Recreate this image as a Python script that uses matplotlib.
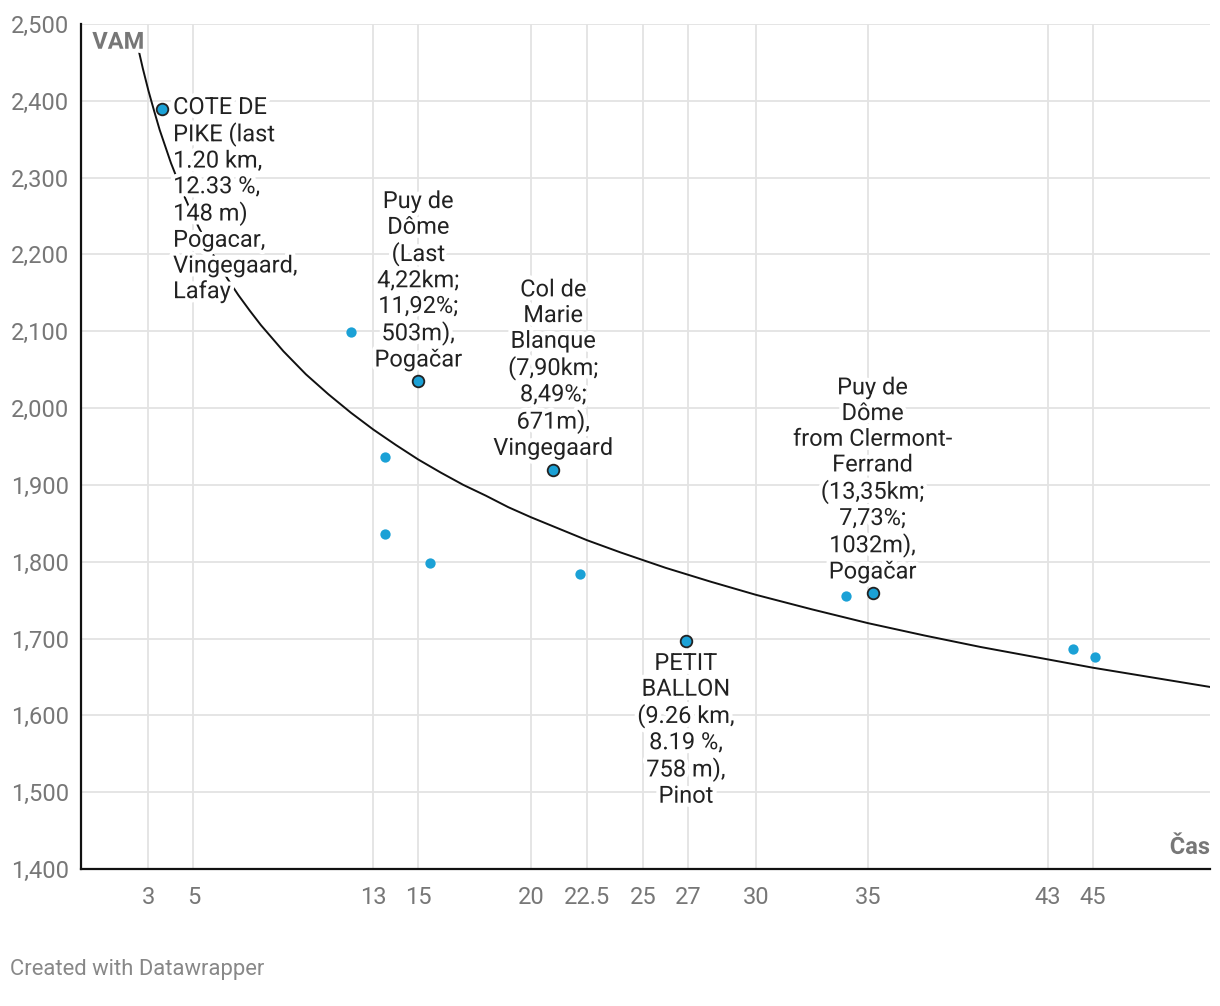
import matplotlib.pyplot as plt
import matplotlib.patheffects as pe

plt.rcParams['font.family'] = ['Roboto', 'DejaVu Sans']

# trend line
curve_x = [2.5, 2.75, 3, 3.25, 3.5, 4, 4.5, 5, 5.5, 6, 6.5, 7, 7.5, 8, 9, 10, 11, 12, 13, 14, 15,
           16, 17, 18, 19, 20, 22.5, 24, 26, 28, 30, 32.5, 35, 37.5, 40, 45, 50.2]
curve_y = [2474, 2442, 2413, 2387, 2362, 2319, 2282, 2249, 2220, 2193, 2169, 2147, 2127, 2108,
           2074, 2044, 2018, 1994, 1972, 1952, 1933, 1916, 1900, 1886, 1871, 1858, 1828, 1812,
           1792, 1774, 1757, 1738, 1720, 1704, 1689, 1662, 1637]

# unlabeled climbs
small_x = [12.0, 13.5, 13.5, 15.5, 22.2, 34.0, 44.1, 45.1]
small_y = [2099, 1936, 1836, 1798, 1784, 1755, 1686, 1676]

# labeled climbs
big_x = [3.6, 15.0, 21.0, 26.9, 35.2]
big_y = [2390, 2035, 1920, 1697, 1759]
big_labels = [
    "COTE DE\nPIKE (last\n1.20 km,\n12.33 %,\n148 m)\nPogacar,\nVingegaard,\nLafay",
    "Puy de\nDôme\n(Last\n4,22km;\n11,92%;\n503m),\nPogačar",
    "Col de\nMarie\nBlanque\n(7,90km;\n8,49%;\n671m),\nVingegaard",
    "PETIT\nBALLON\n(9.26 km,\n8.19 %,\n758 m),\nPinot",
    "Puy de\nDôme\nfrom Clermont-\nFerrand\n(13,35km;\n7,73%;\n1032m),\nPogačar",
]
label_pos = ["right", "above", "above", "below", "above"]

xticks = [3, 5, 13, 15, 20, 22.5, 25, 27, 30, 35, 43, 45]
xtick_labels = ["3", "5", "13", "15", "20", "22.5", "25", "27", "30", "35", "43", "45"]
yticks = list(range(1400, 2600, 100))

fig = plt.figure(figsize=(12.2, 10.06), dpi=100)
ax = fig.add_axes([81 / 1220, 1 - 869 / 1006, (1210 - 81) / 1220, (869 - 24) / 1006])

ax.set_xlim(0, 50.2)
ax.set_ylim(1400, 2500)
ax.set_xticks(xticks)
ax.set_xticklabels(xtick_labels)
ax.set_yticks(yticks)
ax.set_yticklabels([f"{v:,}" for v in yticks])
ax.grid(True, color="#e3e3e3", linewidth=1.3)
ax.set_axisbelow(True)
ax.tick_params(length=0, labelsize=17, labelcolor="#777777")
ax.tick_params(axis="x", pad=12)
ax.tick_params(axis="y", pad=8.5)
for s in ["top", "right"]:
    ax.spines[s].set_visible(False)
for s in ["left", "bottom"]:
    ax.spines[s].set_linewidth(1.6)
    ax.spines[s].set_color("#111111")

ax.plot(curve_x, curve_y, color="#111111", linewidth=1.4, zorder=2)
ax.scatter(small_x, small_y, s=55, color="#1ba1d6", zorder=3, linewidths=0)
ax.scatter(big_x, big_y, s=70, color="#1ba1d6", edgecolors="#222222", linewidths=1.3, zorder=4)

halo = [pe.withStroke(linewidth=6, foreground="white")]
kw = dict(textcoords="offset points", fontsize=17, color="#222222", linespacing=1.15,
          path_effects=halo, zorder=5)
for x, y, txt, pos in zip(big_x, big_y, big_labels, label_pos):
    if pos == "right":
        ax.annotate(txt, (x, y), xytext=(8, 9), ha="left", va="top", **kw)
    elif pos == "above":
        ax.annotate(txt, (x, y), xytext=(0, 7), ha="center", va="bottom", **kw)
    else:
        ax.annotate(txt, (x, y), xytext=(0, -8), ha="center", va="top", **kw)

ax.text(0.01, 0.992, "VAM", transform=ax.transAxes, ha="left", va="top", fontsize=17,
        fontweight="bold", color="#777777", path_effects=halo, zorder=6)
ax.text(1.0, 0.012, "Čas", transform=ax.transAxes, ha="right", va="bottom", fontsize=17,
        fontweight="bold", color="#777777", path_effects=halo, zorder=6)

fig.text(10 / 1220, 1 - 969 / 1006, "Created with Datawrapper", ha="left", va="center",
         fontsize=15.8, color="#888888")

fig.savefig("out.png", dpi=100)
